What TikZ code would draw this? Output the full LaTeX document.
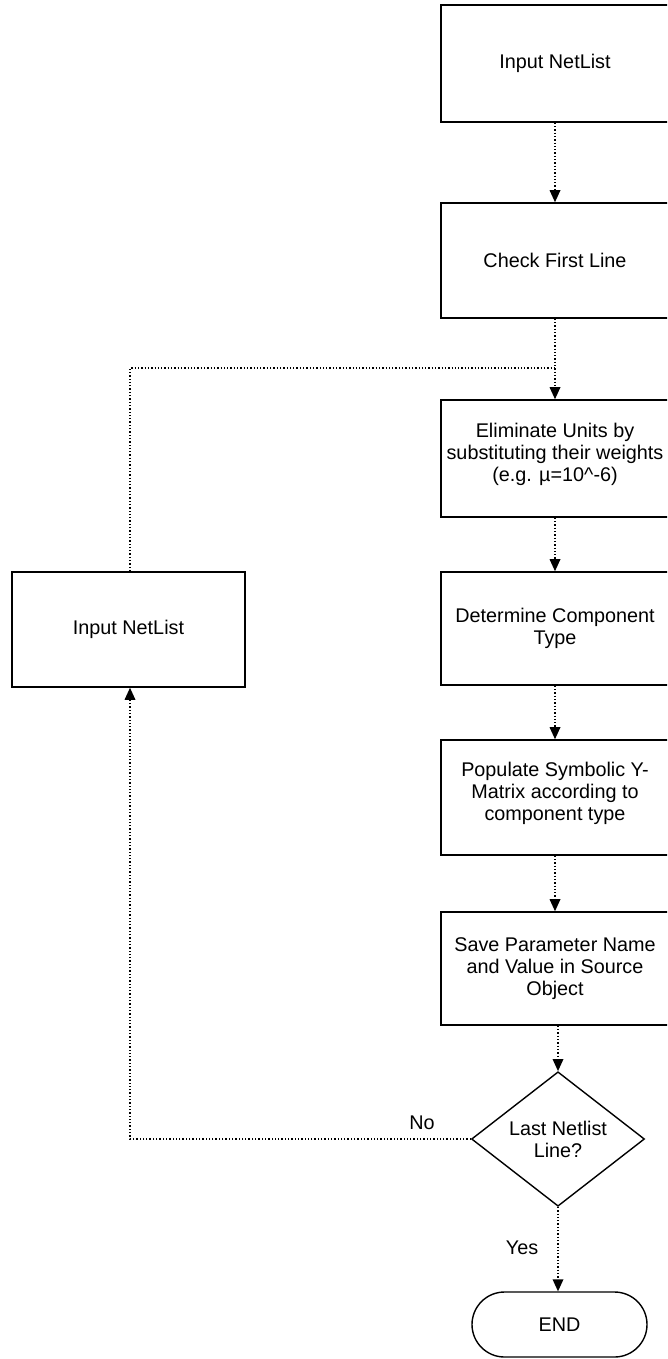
\documentclass[tikz,border=0pt]{standalone}
\usepackage{fontspec}
\setmainfont{Liberation Sans}
\usetikzlibrary{arrows.meta,shapes.geometric,shapes.misc}
\begin{document}
\begin{tikzpicture}[x=1pt,y=-1pt,
  font=\fontsize{19.8}{22}\selectfont,
  procbox/.style={draw=black,line width=1.6pt,minimum width=228pt,minimum height=115pt,align=center,inner sep=0pt},
  decbox/.style={draw=black,line width=1.4pt,diamond,minimum width=173pt,minimum height=132pt,align=center,inner sep=0pt},
  endbox/.style={draw=black,line width=1.4pt,rounded rectangle,minimum width=175pt,minimum height=65pt,inner sep=0pt},
  flow/.style={line width=1.3pt,dotted,-{Triangle[width=11pt,length=12pt,line width=0pt]}},
  flowplain/.style={line width=1.3pt,dotted},
  lbl/.style={inner sep=0pt}]
\clip (0,0) rectangle (667,1359);
\fill[white] (0,0) rectangle (667,1359);
\node[procbox,minimum height=117pt] (b1) at (555,63.5) {Input NetList};
\node[procbox] (b2) at (555,260.5) {Check First Line};
\node[procbox,minimum height=117pt] (b3) at (555,458.5) {Eliminate Units by\\substituting their weights\\(e.g. µ=10\textasciicircum-6)\\[-10pt]};
\node[procbox,minimum height=113pt] (b4) at (555,628.5) {Determine Component\\Type};
\node[procbox] (b5) at (555,797.5) {Populate Symbolic Y-\\Matrix according to\\component type\\[-10pt]};
\node[procbox,minimum height=113pt] (b6) at (555,968.5) {Save Parameter Name\\and Value in Source\\Object};
\node[decbox] (d) at (558,1139) {Last Netlist\\Line?};
\node[endbox] (e) at (559.5,1324.5) {END};
\node[procbox,minimum width=233pt] (l) at (128.5,629.5) {Input NetList};
\coordinate (join) at (555,368);
\coordinate (lc) at (130,1139);
\node[lbl] (no) at (422,1123) {No};
\node[lbl] (yes) at (522,1248) {Yes};
\draw[flow] (b1.south -| join) -- (b2.north -| join);
\draw[flow] (b2.south -| join) -- (b3.north -| join);
\draw[flow] (b3.south -| join) -- (b4.north -| join);
\draw[flow] (b4.south -| join) -- (b5.north -| join);
\draw[flow] (b5.south -| join) -- (b6.north -| join);
\draw[flow] (b6.south -| d) -- (d.north);
\draw[flow] (d.south) -- (e.north -| d);
\draw[flow] (d.west) -- (lc) -- (lc |- l.south);
\draw[flowplain] (lc |- l.north) |- (join);
\end{tikzpicture}
\end{document}
